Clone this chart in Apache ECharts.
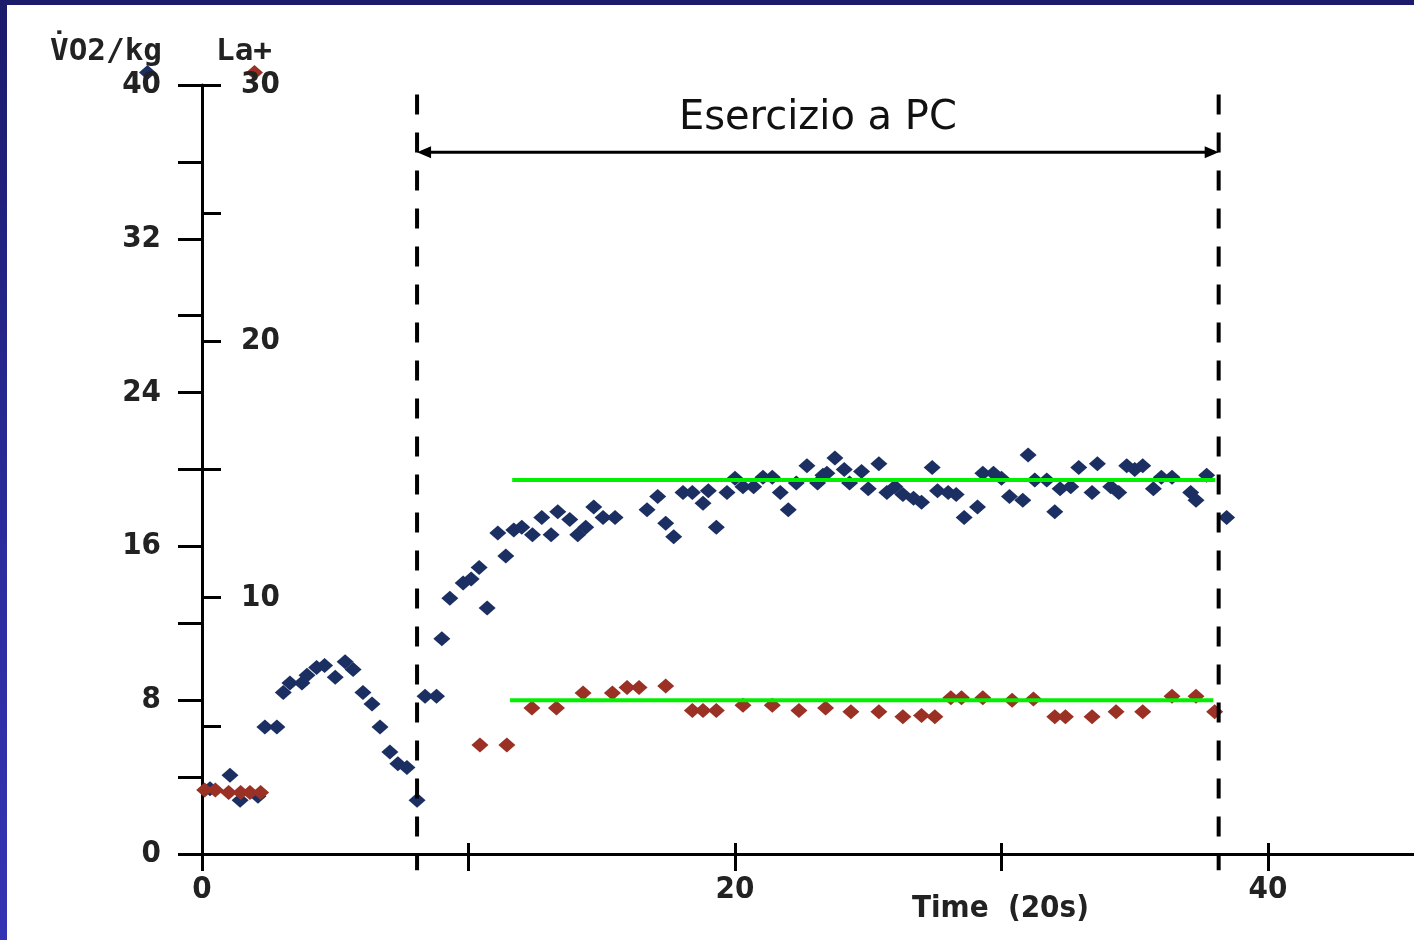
<!DOCTYPE html>
<html>
<head>
<meta charset="utf-8">
<script src="https://cdn.jsdelivr.net/npm/echarts@6/dist/echarts.min.js"></script>
<style>
  html, body { margin: 0; padding: 0; background: #ffffff; }
  #chart { position: absolute; left: 0; top: 0; width: 1414px; height: 940px; }
  #bandTop { position: absolute; left: 0; top: 0; width: 1414px; height: 5px; background: #1b1a6b; z-index: 5; }
  #bandLeft { position: absolute; left: 0; top: 0; width: 7px; height: 940px; background: linear-gradient(#1b1a6b, #2b2c9e 60%, #3434b4); z-index: 6; }
</style>
</head>
<body>
<div id="chart"></div>
<div id="bandTop"></div>
<div id="bandLeft"></div>
<script>
// ---- data (x in units of 20 s) ----
const vo2Points = [
  [0.3, 3.4], [1.05, 4.1], [1.43, 2.8], [2.1, 3.0], [2.36, 6.6], [2.81, 6.6],
  [3.05, 8.4], [3.3, 8.9], [3.75, 8.9], [3.94, 9.3], [4.3, 9.7], [4.6, 9.8],
  [5.0, 9.2], [5.37, 10.0], [5.67, 9.6], [6.04, 8.4], [6.38, 7.8], [6.68, 6.6],
  [7.05, 5.3], [7.35, 4.7], [7.69, 4.5], [8.07, 2.8],
  [8.37, 8.2], [8.8, 8.2], [9.0, 11.2], [9.3, 13.3], [9.8, 14.1], [10.1, 14.3],
  [10.4, 14.9], [10.7, 12.8], [11.1, 16.7], [11.4, 15.5], [11.7, 16.85], [12.0, 17.0],
  [12.4, 16.6], [12.75, 17.5], [13.1, 16.6], [13.35, 17.8], [13.8, 17.4], [14.1, 16.6],
  [14.4, 17.0], [14.7, 18.05], [15.05, 17.5], [15.5, 17.5], [16.7, 17.9], [17.1, 18.6],
  [17.4, 17.2], [17.7, 16.5], [18.05, 18.8], [18.4, 18.8], [18.8, 18.25], [19.0, 18.9],
  [19.3, 17.0], [19.7, 18.8], [20.0, 19.55], [20.3, 19.1], [20.7, 19.1], [21.05, 19.6],
  [21.4, 19.6], [21.7, 18.8], [22.0, 17.9], [22.3, 19.3], [22.7, 20.2], [23.1, 19.3],
  [23.3, 19.7], [23.45, 19.8], [23.75, 20.6], [24.1, 20.0], [24.3, 19.3], [24.75, 19.9],
  [25.0, 19.0], [25.4, 20.3], [25.7, 18.8], [26.0, 19.1], [26.3, 18.7], [26.7, 18.5],
  [27.0, 18.3], [27.4, 20.1], [27.6, 18.9], [28.0, 18.8], [28.3, 18.7], [28.6, 17.5],
  [29.1, 18.05], [29.3, 19.8], [29.7, 19.8], [30.0, 19.55], [30.3, 18.6], [30.8, 18.4],
  [31.0, 20.75], [31.25, 19.45], [31.7, 19.45], [32.0, 17.8], [32.2, 19.0], [32.6, 19.1],
  [32.9, 20.1], [33.4, 18.8], [33.6, 20.3], [34.1, 19.1], [34.4, 18.8], [34.7, 20.2],
  [35.0, 20.0], [35.3, 20.2], [35.7, 19.0], [36.0, 19.6], [36.4, 19.6], [37.1, 18.8],
  [37.3, 18.4], [37.7, 19.7], [38.45, 17.5]
];
const laPoints = [
  [0.1, 2.5], [0.5, 2.5], [1.0, 2.4], [1.45, 2.4], [1.8, 2.4], [2.2, 2.4],
  [10.43, 4.25], [11.44, 4.25], [12.38, 5.7], [13.3, 5.7], [14.3, 6.28], [15.4, 6.28],
  [15.95, 6.5], [16.4, 6.5], [17.4, 6.55], [18.4, 5.6], [18.8, 5.6], [19.3, 5.6],
  [20.3, 5.8], [21.4, 5.8], [22.4, 5.6], [23.4, 5.7], [24.35, 5.55], [25.4, 5.55],
  [26.3, 5.35], [27.0, 5.4], [27.5, 5.35], [28.1, 6.1], [28.5, 6.1], [29.3, 6.1],
  [30.4, 6.0], [31.2, 6.05], [32.0, 5.35], [32.4, 5.35], [33.4, 5.35], [34.3, 5.55],
  [35.3, 5.55], [36.4, 6.15], [37.3, 6.15], [38.0, 5.55]
];
const vo2Plateau = [[11.64, 19.45], [38.02, 19.45]];
const laPlateau = [[11.56, 6.0], [37.95, 6.0]];
const phaseBounds = [8.07, 38.15];        // dashed vertical lines (x)
const phaseLabel = 'Esercizio a PC';
const arrowLevel = 36.5;                  // VO2 level of the double arrow
const dashTop = 39.5, dashBottom = -0.85; // VO2 extent of the dashed lines

const xTicks = [0, 10, 20, 30, 40];
const xLabels = [0, 20, 40];
const vo2Ticks = [0, 4, 8, 12, 16, 20, 24, 28, 32, 36, 40];
const vo2Labels = [0, 8, 16, 24, 32, 40];
const laTicks = [0, 5, 10, 15, 20, 25, 30];
const laLabels = [10, 20, 30];

const vo2AxisName = 'V\u0307O2/kg';
const laAxisName = 'La+';
const xAxisName = 'Time  (20s)';
const xMax = 45.48;

const numFont = "'Liberation Sans Narrow', 'DejaVu Sans Condensed', 'Liberation Sans', sans-serif";

const chart = echarts.init(document.getElementById('chart'), null, { renderer: 'canvas' });

const axisLineStyle = { color: '#000', width: 3 };
const numStyle = { color: '#222', fontFamily: numFont, fontWeight: 'bold', fontSize: 31 };

chart.setOption({
  animation: false,
  backgroundColor: '#ffffff',
  title: [
    { text: vo2AxisName, left: 50, top: 36, padding: 0,
      textStyle: { fontFamily: "'DejaVu Sans Mono', monospace", fontWeight: 'bold', fontSize: 31, color: '#222' } },
    { text: laAxisName, left: 216, top: 36, padding: 0,
      textStyle: { fontFamily: "'DejaVu Sans Mono', monospace", fontWeight: 'bold', fontSize: 31, color: '#222' } },
    { text: xAxisName, left: 912, top: 893, padding: 0,
      textStyle: { fontFamily: numFont, fontWeight: 'bold', fontSize: 31, color: '#222' } }
  ],
  legend: {
    left: 134, top: 60, z: 0,
    icon: 'diamond', itemWidth: 17, itemHeight: 15, itemGap: 90,
    formatter: function () { return ''; },
    data: ['VO2/kg', 'La+'],
    selectedMode: false
  },
  grid: { left: 202, right: 0, top: 85, bottom: 86, containLabel: false },
  xAxis: [
    {
      type: 'value', min: 0, max: xMax, interval: 10,
      axisLine: { show: true, lineStyle: axisLineStyle },
      axisTick: { show: true, length: 17, customValues: xTicks, lineStyle: { color: '#000', width: 3 } },
      axisLabel: Object.assign({ margin: 20, customValues: xLabels }, numStyle),
      splitLine: { show: false }
    },
    {
      type: 'value', min: 0, max: xMax, interval: 10, position: 'bottom',
      axisLine: { show: false },
      axisTick: { show: true, inside: true, length: 11, customValues: xTicks, lineStyle: { color: '#000', width: 3 } },
      axisLabel: { show: false },
      splitLine: { show: false }
    }
  ],
  yAxis: [
    {
      type: 'value', min: 0, max: 40, interval: 4, position: 'left',
      axisLine: { show: true, lineStyle: axisLineStyle },
      axisTick: { show: true, length: 24, customValues: vo2Ticks, lineStyle: { color: '#000', width: 3 } },
      axisLabel: Object.assign({ margin: 41, customValues: vo2Labels }, numStyle),
      splitLine: { show: false }
    },
    {
      type: 'value', min: 0, max: 30, interval: 5, position: 'left', offset: 0,
      axisLine: { show: false },
      axisTick: { show: true, inside: true, length: 19, customValues: laTicks, lineStyle: { color: '#000', width: 3 } },
      axisLabel: Object.assign({ inside: true, margin: 39, customValues: laLabels }, numStyle),
      splitLine: { show: false }
    }
  ],
  series: [
    {
      name: 'VO2/kg', type: 'scatter', xAxisIndex: 0, yAxisIndex: 0,
      symbol: 'diamond', symbolSize: [17, 15],
      itemStyle: { color: '#1b2f62', opacity: 1 },
      data: vo2Points, z: 3
    },
    {
      name: 'La+', type: 'scatter', xAxisIndex: 0, yAxisIndex: 1,
      symbol: 'diamond', symbolSize: [17, 15],
      itemStyle: { color: '#9b3024', opacity: 1 },
      data: laPoints, z: 3
    },
    {
      name: 'vo2Plateau', type: 'line', xAxisIndex: 0, yAxisIndex: 0,
      symbol: 'none', lineStyle: { color: '#00f000', width: 4 },
      data: vo2Plateau, z: 5
    },
    {
      name: 'laPlateau', type: 'line', xAxisIndex: 0, yAxisIndex: 1,
      symbol: 'none', lineStyle: { color: '#00f000', width: 4 },
      data: laPlateau, z: 5
    },
    {
      name: 'phaseBounds', type: 'custom', xAxisIndex: 0, yAxisIndex: 0, clip: false, z: 6,
      data: phaseBounds.map(function (x) { return [x]; }),
      renderItem: function (params, api) {
        const x = api.value(0);
        const p1 = api.coord([x, dashTop]);
        const p2 = api.coord([x, dashBottom]);
        return {
          type: 'line',
          shape: { x1: p1[0], y1: p1[1], x2: p2[0], y2: p2[1] },
          style: { stroke: '#000', lineWidth: 4, lineDash: [20, 18] }
        };
      }
    },
    {
      name: 'phaseArrow', type: 'custom', xAxisIndex: 0, yAxisIndex: 0, clip: false, z: 6,
      data: [[phaseBounds[0], phaseBounds[1], arrowLevel]],
      renderItem: function (params, api) {
        const a = api.coord([api.value(0), api.value(2)]);
        const b = api.coord([api.value(1), api.value(2)]);
        const hl = 14, hh = 6;
        return {
          type: 'group',
          children: [
            { type: 'line', shape: { x1: a[0] + 4, y1: a[1], x2: b[0] - 4, y2: b[1] },
              style: { stroke: '#000', lineWidth: 3 } },
            { type: 'polygon', shape: { points: [[a[0], a[1]], [a[0] + hl, a[1] - hh], [a[0] + hl, a[1] + hh]] },
              style: { fill: '#000' } },
            { type: 'polygon', shape: { points: [[b[0], b[1]], [b[0] - hl, b[1] - hh], [b[0] - hl, b[1] + hh]] },
              style: { fill: '#000' } },
            { type: 'text',
              style: { text: phaseLabel, x: (a[0] + b[0]) / 2, y: a[1] - 34,
                       align: 'center', verticalAlign: 'middle',
                       font: "40px 'DejaVu Sans', sans-serif", fill: '#111' } }
          ]
        };
      }
    }
  ]
});
</script>
</body>
</html>
